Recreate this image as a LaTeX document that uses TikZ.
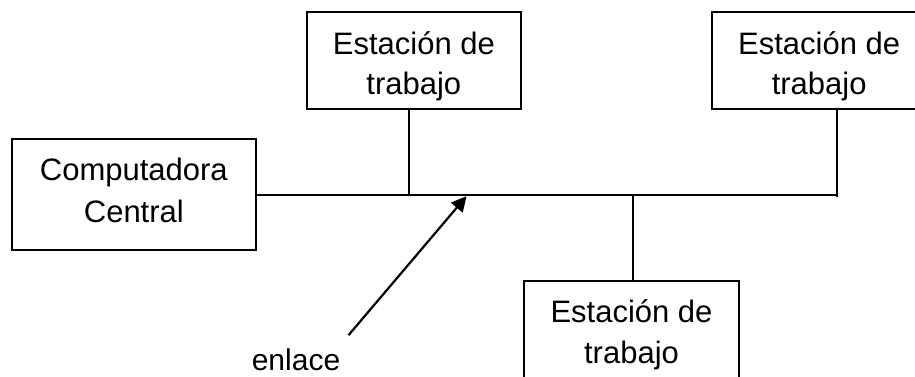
\documentclass[tikz,border=0pt]{standalone}
\usepackage{fontspec}
\setmainfont{Liberation Sans}
\usetikzlibrary{arrows.meta}
\tikzset{
  stationbox/.style={draw, line width=2pt, inner sep=0pt, align=center,
    minimum width=214pt, minimum height=97pt,
    font=\fontsize{31}{40.5}\selectfont},
  hostbox/.style={draw, line width=2pt, inner sep=0pt, align=center,
    minimum width=244.3pt, minimum height=110.4pt,
    font=\fontsize{31}{42.7}\selectfont},
  wire/.style={line width=2pt},
  pointer/.style={line width=2.2pt, -{Triangle[length=15pt,width=15pt]}},
  labeltext/.style={inner sep=0pt, anchor=base, font=\fontsize{30}{36}\selectfont}
}
\begin{document}
\begin{tikzpicture}[x=1pt,y=-1pt]
\useasboundingbox (0,0) rectangle (915,376);
\clip (0,0) rectangle (915,376);
% boxes
\node[hostbox] (comp) at (133.85,194.5) {\rule{0pt}{30pt}Computadora\\Central\rule[-16.3pt]{0pt}{0pt}};
\node[stationbox] (st1) at (413.85,60.8) {\rule{0pt}{35pt}Estación de\\trabajo\rule[-8pt]{0pt}{0pt}};
\node[stationbox, minimum width=213.7pt] (st2) at (819.15,60.8) {\rule{0pt}{35pt}Estación de\\trabajo\rule[-8pt]{0pt}{0pt}};
\node[stationbox, minimum width=215pt] (st3) at (631.5,329.5) {\rule{0pt}{35pt}Estación de\\trabajo\rule[-8pt]{0pt}{0pt}};
% bus taps
\coordinate (tap1) at (408.7,194.5);
\coordinate (tap3) at (633.3,194.5);
\coordinate (rtap) at (836.7,196.5);
\coordinate (busend) at (836.7,194.5);
\draw[wire] (comp.east) -- (busend);
\draw[wire] (st1.south -| tap1) -- (tap1);
\draw[wire] (st2.south -| rtap) -- (rtap);
\draw[wire] (st3.north -| tap3) -- (tap3);
% label and pointer
\node[labeltext] (lbl) at (296,370.5) {enlace};
\coordinate (arrtail) at (348.5,335.2);
\coordinate (arrtip) at (466.5,196.2);
\draw[pointer] (arrtail) -- (arrtip);
\end{tikzpicture}
\end{document}
